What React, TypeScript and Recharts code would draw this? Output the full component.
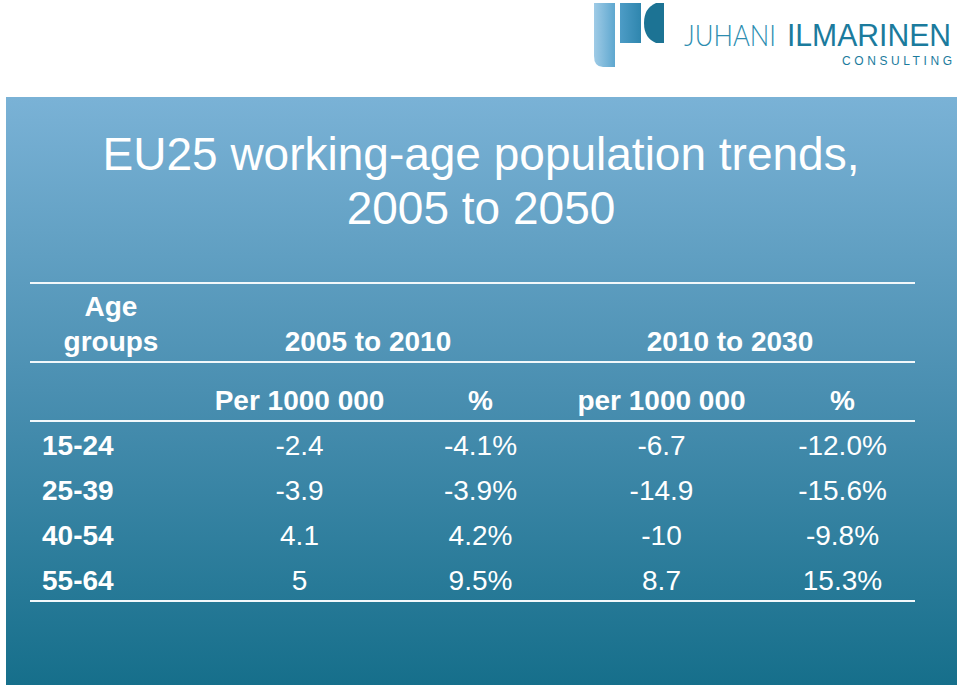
import { ScatterChart, Scatter, XAxis, YAxis } from "recharts";

// table content
const ageGroups = ["15-24", "25-39", "40-54", "55-64"];
const change2005to2010 = [-2.4, -3.9, 4.1, 5];
const pct2005to2010 = [-4.1, -3.9, 4.2, 9.5];
const change2010to2030 = [-6.7, -14.9, -10, 8.7];
const pct2010to2030 = [-12.0, -15.6, -9.8, 15.3];
const columnKeys = ["c1", "c2", "c3", "c4"];
const columnLabels = ["Per 1000 000", "%", "per 1000 000", "%"];
const periodLabels = ["2005 to 2010", "2010 to 2030"];

const FONT = "'Liberation Sans', Arial, Helvetica, sans-serif";

const fmtPct = (v: number) => `${v.toFixed(1)}%`;

const cells = ageGroups.flatMap((age, i) => [
  { row: age, col: "c1", text: String(change2005to2010[i]) },
  { row: age, col: "c2", text: fmtPct(pct2005to2010[i]) },
  { row: age, col: "c3", text: String(change2010to2030[i]) },
  { row: age, col: "c4", text: fmtPct(pct2010to2030[i]) },
]);

const CellText = (props: any) => (
  <text
    x={props.cx}
    y={props.cy}
    dy={10}
    textAnchor="middle"
    fill="#ffffff"
    fontSize={28}
    fontFamily={FONT}
  >
    {props.payload.text}
  </text>
);

const AgeTick = (props: any) => (
  <text x={42} y={props.y} dy={10} textAnchor="start" fill="#ffffff" fontSize={28} fontWeight="bold" fontFamily={FONT}>
    {props.payload.value}
  </text>
);

function Logo() {
  return (
    <g>
      <defs>
        <linearGradient id="bar1" x1="0" y1="0" x2="1" y2="0">
          <stop offset="0%" stopColor="#9fcbe6" />
          <stop offset="100%" stopColor="#5ea7cf" />
        </linearGradient>
        <linearGradient id="bar2" x1="0" y1="0" x2="1" y2="0">
          <stop offset="0%" stopColor="#4d9cc6" />
          <stop offset="100%" stopColor="#2f86ae" />
        </linearGradient>
      </defs>
      <path d="M594 3 H615 V67 H603 Q594 67 594 56 Z" fill="url(#bar1)" />
      <rect x={620} y={3} width={21} height={40} fill="url(#bar2)" />
      <path d="M664 3 H656 Q644 8 644 23 Q644 38 656 43 H664 Z" fill="#1c7394" />
      <text x={684} y={46} fontSize={30} fontWeight={300} fill="#2c8db0" fontFamily="Lato, 'Open Sans', sans-serif" textLength={92} lengthAdjust="spacingAndGlyphs">
        JUHANI
      </text>
      <text x={787} y={46} fontSize={31} fill="#1b7b9d" fontFamily={FONT} textLength={164} lengthAdjust="spacingAndGlyphs">
        ILMARINEN
      </text>
      <text x={842} y={65} fontSize={12} fill="#1b7b9d" fontFamily={FONT} textLength={110} lengthAdjust="spacing">
        CONSULTING
      </text>
    </g>
  );
}

export default function App() {
  const lineYs = [283, 362, 421, 601];
  return (
    <div style={{ position: "fixed", left: 0, top: 0, width: 960, height: 688, background: "#ffffff", overflow: "hidden" }}>
      <div
        style={{
          position: "absolute",
          left: 6,
          top: 97,
          width: 951,
          height: 588,
          background: "linear-gradient(180deg, #7ab2d6 0%, #4a8fb1 50%, #166f8b 100%)",
        }}
      />
      <svg width={960} height={688} style={{ position: "absolute", left: 0, top: 0 }}>
        <Logo />
        <text x={481} y={170} textAnchor="middle" fill="#ffffff" fontSize={46} fontFamily={FONT}>
          EU25 working-age population trends,
        </text>
        <text x={481} y={224} textAnchor="middle" fill="#ffffff" fontSize={46} fontFamily={FONT}>
          2005 to 2050
        </text>
        {lineYs.map((y) => (
          <line key={y} x1={30} x2={915} y1={y} y2={y} stroke="#f2f8fb" strokeWidth={2} />
        ))}
        <text x={111} y={316} textAnchor="middle" fill="#ffffff" fontSize={28} fontWeight="bold" fontFamily={FONT}>
          Age
        </text>
        <text x={111} y={351} textAnchor="middle" fill="#ffffff" fontSize={28} fontWeight="bold" fontFamily={FONT}>
          groups
        </text>
        <text x={368} y={351} textAnchor="middle" fill="#ffffff" fontSize={28} fontWeight="bold" fontFamily={FONT}>
          {periodLabels[0]}
        </text>
        <text x={730} y={351} textAnchor="middle" fill="#ffffff" fontSize={28} fontWeight="bold" fontFamily={FONT}>
          {periodLabels[1]}
        </text>
      </svg>
      <div style={{ position: "absolute", left: 0, top: 0 }}>
        <ScatterChart width={960} height={688} margin={{ top: 392, right: 27, bottom: 85, left: 149 }}>
          <XAxis
            xAxisId="cols"
            orientation="top"
            type="category"
            dataKey="col"
            allowDuplicatedCategory={false}
            ticks={columnKeys}
            height={30}
            axisLine={false}
            tickLine={false}
            tickSize={0}
            tickMargin={12}
            tickFormatter={(v: string) => columnLabels[columnKeys.indexOf(v)]}
            tick={{ fill: "#ffffff", fontSize: 28, fontWeight: "bold", fontFamily: FONT }}
          />
          <YAxis
            yAxisId="rows"
            type="category"
            dataKey="row"
            allowDuplicatedCategory={false}
            reversed
            width={60}
            axisLine={false}
            tickLine={false}
            tick={<AgeTick />}
          />
          <Scatter xAxisId="cols" yAxisId="rows" data={cells} shape={<CellText />} isAnimationActive={false} />
        </ScatterChart>
      </div>
    </div>
  );
}
